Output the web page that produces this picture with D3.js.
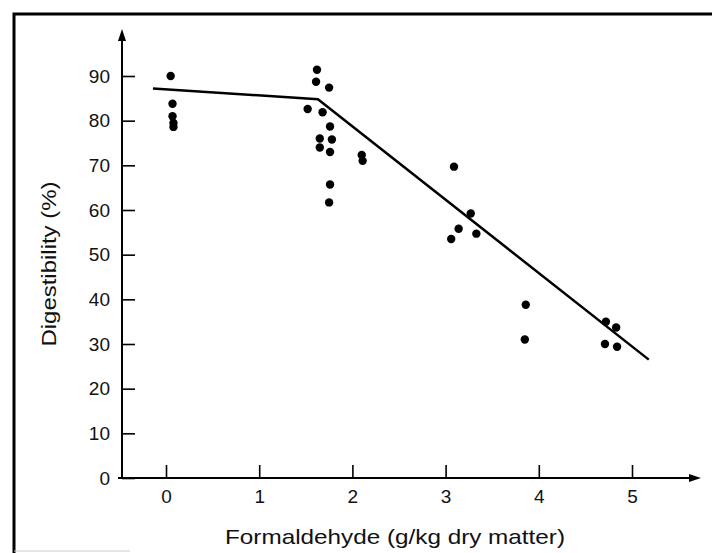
<!DOCTYPE html>
<html>
<head>
<meta charset="utf-8">
<script src="https://cdn.jsdelivr.net/npm/d3@7"></script>
<style>
  body { margin: 0; background: #fff; }
  text { font-family: "Liberation Sans", Arial, sans-serif; fill: #111; }
</style>
</head>
<body>
<svg id="chart" width="712" height="553"></svg>
<script>
/* Data */
const formaldehyde = [0.05, 0.07, 0.07, 0.08, 0.08,
    1.52, 1.61, 1.62, 1.65, 1.65, 1.68, 1.75, 1.75, 1.76, 1.76, 1.76, 1.78,
    2.1, 2.11, 3.06, 3.09, 3.14, 3.27, 3.33,
    3.85, 3.86, 4.71, 4.72, 4.83, 4.84];
const digestibility = [90, 83.8, 81, 79.5, 78.6,
    82.6, 88.7, 91.4, 76, 74, 81.9, 87.4, 61.7, 78.7, 73, 65.7, 75.8,
    72.3, 71, 53.5, 69.7, 55.8, 59.2, 54.7,
    31, 38.8, 30, 35, 33.7, 29.4];

/* Fitted broken line: start, break point, end */
const lineX = [-0.14, 1.63, 5.18];
const lineY = [87.2, 84.8, 26.5];

const xTicks = [0, 1, 2, 3, 4, 5];
const yTicks = [0, 10, 20, 30, 40, 50, 60, 70, 80, 90];

const points = formaldehyde.map((v, i) => ({ x: v, y: digestibility[i] }));
const fit = lineX.map((v, i) => ({ x: v, y: lineY[i] }));

const svg = d3.select("#chart");

/* Scales */
const x = d3.scaleLinear().domain([0, 5]).range([166, 632]);
const y = d3.scaleLinear().domain([0, 90]).range([478, 76]);
const axisX = 122;

/* Frame of the scanned figure */
svg.append("path")
    .attr("d", "M14,553 L14,14 L712,14")
    .attr("fill", "none")
    .attr("stroke", "#000")
    .attr("stroke-width", 3);
svg.append("line")
    .attr("x1", 14).attr("x2", 130)
    .attr("y1", 551).attr("y2", 551)
    .attr("stroke", "#ccc").attr("stroke-width", 1);

/* Y axis (ticks pointing inwards) */
const gy = svg.append("g")
    .attr("transform", `translate(${axisX},0)`)
    .call(d3.axisLeft(y).tickValues(yTicks).tickFormat(d3.format("d"))
        .tickSize(-13).tickPadding(12));
gy.select(".domain").remove();
gy.selectAll(".tick line").attr("stroke", "#000").attr("stroke-width", 1.6);
gy.selectAll(".tick text")
    .style("font-size", "19px")
    .style("font-family", "'Liberation Sans', Arial, sans-serif")
    .attr("fill", "#111");
svg.append("line")
    .attr("x1", axisX).attr("x2", axisX)
    .attr("y1", y(0)).attr("y2", 36)
    .attr("stroke", "#000").attr("stroke-width", 2);
svg.append("path")
    .attr("d", `M${axisX},29 L${axisX - 4},41 L${axisX + 4},41 Z`)
    .attr("fill", "#000");

/* X axis (ticks pointing up) */
const gx = svg.append("g")
    .attr("transform", `translate(0,${y(0)})`)
    .call(d3.axisBottom(x).tickValues(xTicks).tickFormat(d3.format("d"))
        .tickSize(-13).tickPadding(12));
gx.select(".domain").remove();
gx.selectAll(".tick line").attr("stroke", "#000").attr("stroke-width", 1.6);
gx.selectAll(".tick text")
    .style("font-size", "19px")
    .style("font-family", "'Liberation Sans', Arial, sans-serif")
    .attr("fill", "#111");
svg.append("line")
    .attr("x1", 118).attr("x2", 692)
    .attr("y1", y(0)).attr("y2", y(0))
    .attr("stroke", "#000").attr("stroke-width", 2);
svg.append("path")
    .attr("d", `M701,${y(0)} L689,${y(0) - 4} L689,${y(0) + 4} Z`)
    .attr("fill", "#000");

/* Axis titles */
svg.append("text")
    .attr("x", 395).attr("y", 544)
    .attr("text-anchor", "middle")
    .attr("textLength", 340)
    .attr("lengthAdjust", "spacingAndGlyphs")
    .style("font-size", "21px")
    .text("Formaldehyde (g/kg dry matter)");
svg.append("text")
    .attr("transform", "translate(56,264) rotate(-90)")
    .attr("text-anchor", "middle")
    .attr("textLength", 165)
    .attr("lengthAdjust", "spacingAndGlyphs")
    .style("font-size", "20px")
    .text("Digestibility (%)");

/* Fitted line */
svg.append("path")
    .datum(fit)
    .attr("d", d3.line().x(d => x(d.x)).y(d => y(d.y)))
    .attr("fill", "none")
    .attr("stroke", "#000")
    .attr("stroke-width", 2.5);

/* Observations */
svg.append("g")
    .selectAll("circle")
    .data(points)
    .join("circle")
    .attr("cx", d => x(d.x))
    .attr("cy", d => y(d.y))
    .attr("r", 4.2)
    .attr("fill", "#000");
</script>
</body>
</html>
